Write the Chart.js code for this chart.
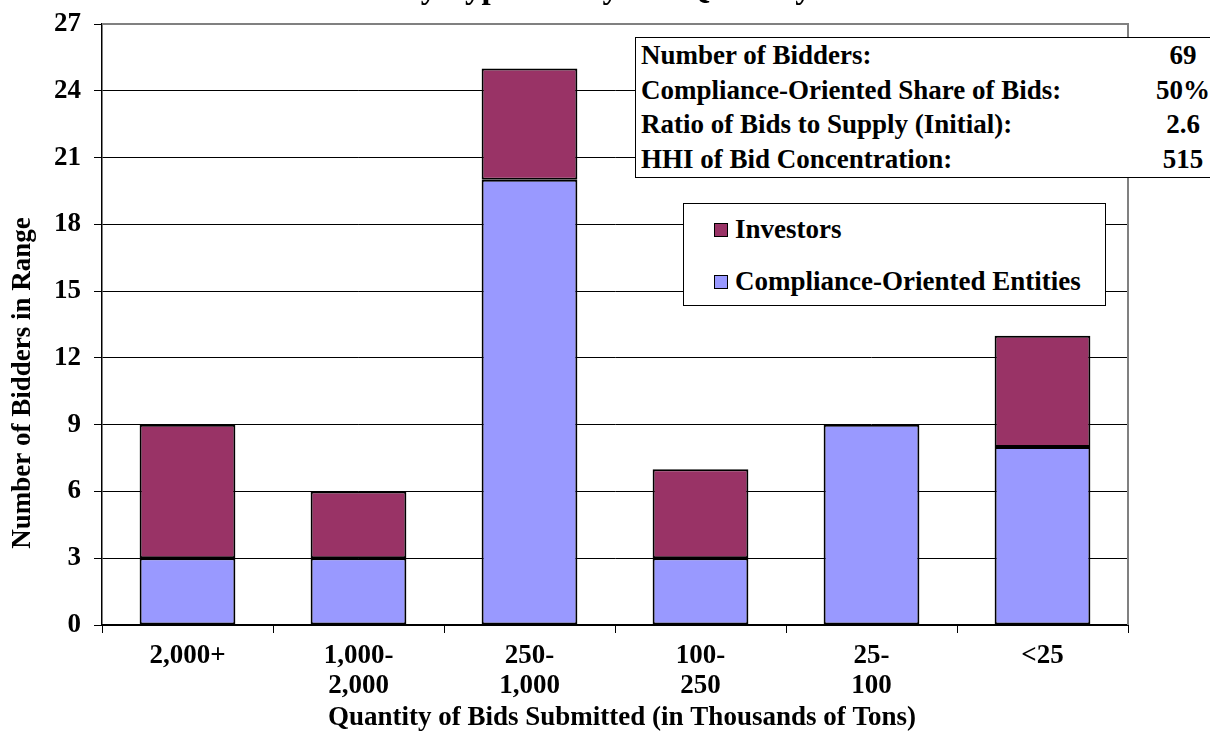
<!DOCTYPE html>
<html>
<head>
<meta charset="utf-8">
<script src="https://cdn.jsdelivr.net/npm/chart.js@4/dist/chart.umd.min.js"></script>
<style>
  body { margin: 0; background: #fff; }
  #wrap { position: relative; width: 1210px; height: 734px; overflow: hidden; }
  .box { position: absolute; background: #fff; border: 1.5px solid #000; box-sizing: border-box;
         font: bold 27px "Liberation Serif", "Times New Roman", serif; color: #000; }
  #stats { left: 635px; top: 37px; width: 600px; height: 141px; }
  #stats .row { position: relative; height: 34.5px; line-height: 34.5px; padding-left: 5px; white-space: nowrap; }
  #stats .val { position: absolute; left: 507px; width: 80px; text-align: center; top: 0; }
  #legend { left: 683px; top: 203px; width: 423px; height: 103px; }
  #legend .item { position: absolute; left: 30px; white-space: nowrap; line-height: 30px; }
  #legend .sw { display: inline-block; width: 12px; height: 12px; border: 1px solid #000; margin-right: 7px; vertical-align: 1px; }
</style>
</head>
<body>
<div id="wrap">
  <canvas id="myChart" width="1210" height="734"></canvas>
  <div id="stats" class="box"></div>
  <div id="legend" class="box"></div>
</div>
<script>
// data
const categories = [['2,000+'], ['1,000-', '2,000'], ['250-', '1,000'], ['100-', '250'], ['25-', '100'], ['<25']];
const compliance = [3, 3, 20, 3, 9, 8];
const investors = [6, 3, 5, 4, 0, 5];
const yTicks = [0, 3, 6, 9, 12, 15, 18, 21, 24, 27];
const statLabels = ['Number of Bidders:', 'Compliance-Oriented Share of Bids:', 'Ratio of Bids to Supply (Initial):', 'HHI of Bid Concentration:'];
const statValues = ['69', '50%', '2.6', '515'];
const titleText = 'by Type and by Bid Quantity';
const xTitle = 'Quantity of Bids Submitted (in Thousands of Tons)';
const yTitle = 'Number of Bidders in Range';

const serif = '"Liberation Serif", "Times New Roman", serif';

// gray frame on top/right of plot, axis titles, clipped title at the very top
const frame = {
  id: 'frame',
  afterDraw(chart) {
    const ctx = chart.ctx, a = chart.chartArea;
    ctx.save();
    ctx.strokeStyle = '#808080';
    ctx.lineWidth = 2;
    ctx.beginPath();
    ctx.moveTo(a.left, a.top);
    ctx.lineTo(a.right, a.top);
    ctx.lineTo(a.right, a.bottom);
    ctx.stroke();

    ctx.fillStyle = '#000';
    ctx.textAlign = 'center';
    ctx.textBaseline = 'alphabetic';
    ctx.font = 'bold 33px ' + serif;
    ctx.fillText(titleText, 607, -2);

    ctx.font = 'bold 27px ' + serif;
    ctx.textBaseline = 'middle';
    ctx.fillText(xTitle, 622, 718);
    ctx.translate(23, 383);
    ctx.rotate(-Math.PI / 2);
    ctx.fillText(yTitle, 0, 0);
    ctx.restore();
  }
};

const chart = new Chart(document.getElementById('myChart'), {
  type: 'bar',
  data: {
    labels: categories,
    datasets: [
      { label: 'Compliance-Oriented Entities', data: compliance, backgroundColor: '#9999FF', borderColor: '#000', borderWidth: 2, borderSkipped: false },
      { label: 'Investors', data: investors, backgroundColor: '#993366', borderColor: '#000', borderWidth: 2, borderSkipped: false }
    ]
  },
  options: {
    responsive: false,
    animation: false,
    barPercentage: 0.56,
    categoryPercentage: 1,
    layout: { padding: { top: 24, right: 82, left: 0, bottom: 0 } },
    plugins: { legend: { display: false }, tooltip: { enabled: false } },
    scales: {
      x: {
        stacked: true,
        grid: { offset: true, drawOnChartArea: false, color: '#000', tickLength: 8 },
        border: { color: '#000', width: 2 },
        ticks: { color: '#000', font: { family: serif, size: 27, weight: 'bold', lineHeight: 1.1 }, padding: 8, maxRotation: 0 },
        afterFit(s) { s.height = 109; }
      },
      y: {
        stacked: true,
        min: 0,
        max: 27,
        afterBuildTicks(s) { s.ticks = yTicks.map(v => ({ value: v })); },
        grid: { color: '#000', lineWidth: 1, tickLength: 8 },
        border: { color: '#000', width: 1.5 },
        ticks: { color: '#000', font: { family: serif, size: 27, weight: 'bold', lineHeight: 0.5 }, padding: 13 },
        afterFit(s) { s.width = 102; }
      }
    }
  },
  plugins: [frame]
});

// stats box
const stats = document.getElementById('stats');
statLabels.forEach((t, i) => {
  const row = document.createElement('div');
  row.className = 'row';
  row.textContent = t;
  const v = document.createElement('span');
  v.className = 'val';
  v.textContent = statValues[i];
  row.appendChild(v);
  stats.appendChild(row);
});

// legend from datasets, top stack first
const legend = document.getElementById('legend');
chart.data.datasets.slice().reverse().forEach((ds, i) => {
  const item = document.createElement('div');
  item.className = 'item';
  item.style.top = (10 + i * 52) + 'px';
  item.innerHTML = '<span class="sw" style="background:' + ds.backgroundColor + '"></span>';
  item.appendChild(document.createTextNode(ds.label));
  legend.appendChild(item);
});
</script>
</body>
</html>
